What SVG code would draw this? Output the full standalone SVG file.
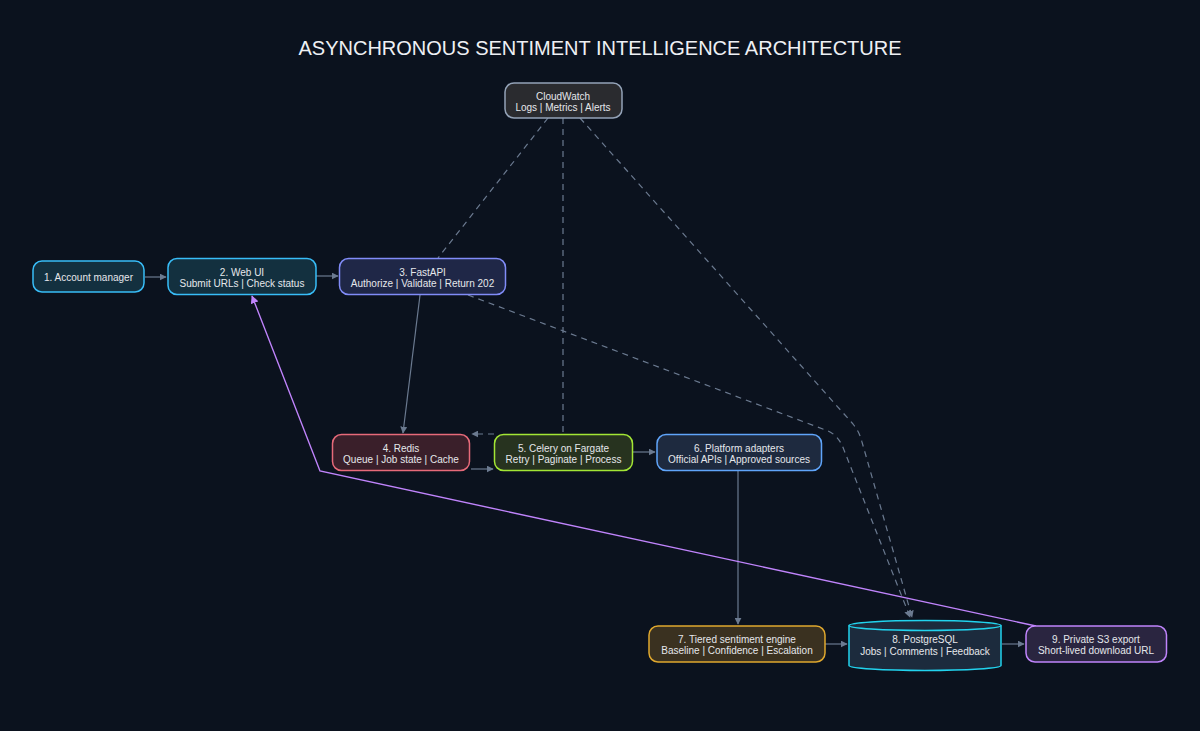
<svg xmlns="http://www.w3.org/2000/svg" width="1200" height="731" viewBox="0 0 1200 731">
<defs>
<marker id="ag" viewBox="0 0 10 10" refX="9" refY="5" markerWidth="7" markerHeight="7" markerUnits="userSpaceOnUse" orient="auto"><path d="M0,0 L10,5 L0,10 z" fill="#6b7a90"/></marker>
<marker id="ap" viewBox="0 0 10 10" refX="9" refY="5" markerWidth="8" markerHeight="8" markerUnits="userSpaceOnUse" orient="auto"><path d="M0,0 L10,5 L0,10 z" fill="#c084fc"/></marker>
<style>
text{font-family:"Liberation Sans",Arial,sans-serif;fill:#e5e7eb;text-anchor:middle}
.t{font-size:10px}
.title{font-size:20px;fill:#eef0f4}
.n{stroke-width:1.5}
.e{fill:none;stroke:#6b7a90;stroke-width:1.2}
.d{stroke-dasharray:6,5}
.p{fill:none;stroke:#c084fc;stroke-width:1.4}
</style>
</defs>
<rect width="1200" height="731" fill="#0b121e"/>
<text class="title" x="600" y="55">ASYNCHRONOUS SENTIMENT INTELLIGENCE ARCHITECTURE</text>
<g id="connectors">
<path class="e" d="M145,277 L166,277" marker-end="url(#ag)"/>
<path class="e" d="M316,276 L338,276" marker-end="url(#ag)"/>
<path class="e" d="M420,295 L403,433" marker-end="url(#ag)"/>
<path class="e d" d="M548,118 L438,258"/>
<path class="e d" d="M563,118 L563,434"/>
<path class="e d" d="M580,118 L853,424 C857,429 860,434 862,442 L912,617" marker-end="url(#ag)"/>
<path class="e d" d="M468,295 L828,431 C837,435 841,442 844,450 L910,617" marker-end="url(#ag)"/>
<path class="e d" d="M494,434 L472,434" marker-end="url(#ag)"/>
<path class="e" d="M471,469 L493,469" marker-end="url(#ag)"/>
<path class="e" d="M633,452 L655,452" marker-end="url(#ag)"/>
<path class="e" d="M738,470 L738,624" marker-end="url(#ag)"/>
<path class="e" d="M825,644 L847,644" marker-end="url(#ag)"/>
<path class="e" d="M1002,644 L1024,644" marker-end="url(#ag)"/>
<path class="p" d="M1036,626 L320,471 L252,296" marker-end="url(#ap)"/>
</g>
<g id="cloudwatch">
<rect class="n" x="505" y="83" width="117" height="35" rx="9" fill="#2a2b2f" stroke="#94a3b8"/>
<text class="t" x="563" y="99.5">CloudWatch</text>
<text class="t" x="563" y="110.5">Logs | Metrics | Alerts</text>
</g>
<g id="n1">
<rect class="n" x="33" y="261" width="111" height="31" rx="9" fill="#13303f" stroke="#38bdf8"/>
<text class="t" x="88.5" y="280.5">1. Account manager</text>
</g>
<g id="n2">
<rect class="n" x="168" y="258.5" width="148" height="36" rx="9" fill="#13303f" stroke="#38bdf8"/>
<text class="t" x="242" y="275.5">2. Web UI</text>
<text class="t" x="242" y="286.5">Submit URLs | Check status</text>
</g>
<g id="n3">
<rect class="n" x="339.5" y="258.5" width="166" height="36" rx="9" fill="#1f2747" stroke="#818cf8"/>
<text class="t" x="422.5" y="275.5">3. FastAPI</text>
<text class="t" x="422.5" y="286.5">Authorize | Validate | Return 202</text>
</g>
<g id="n4">
<rect class="n" x="332.5" y="434.5" width="137" height="36" rx="9" fill="#3a1f2a" stroke="#e76a7a"/>
<text class="t" x="401" y="451.5">4. Redis</text>
<text class="t" x="401" y="462.5">Queue | Job state | Cache</text>
</g>
<g id="n5">
<rect class="n" x="494.5" y="434.5" width="138" height="36" rx="9" fill="#27331f" stroke="#a3e635"/>
<text class="t" x="563.5" y="451.5">5. Celery on Fargate</text>
<text class="t" x="563.5" y="462.5">Retry | Paginate | Process</text>
</g>
<g id="n6">
<rect class="n" x="657" y="434.5" width="164.5" height="36" rx="9" fill="#1e2a3f" stroke="#60a5fa"/>
<text class="t" x="739" y="451.5">6. Platform adapters</text>
<text class="t" x="739" y="462.5">Official APIs | Approved sources</text>
</g>
<g id="n7">
<rect class="n" x="649" y="626" width="176" height="36" rx="9" fill="#3a3120" stroke="#e0a82e"/>
<text class="t" x="737" y="643">7. Tiered sentiment engine</text>
<text class="t" x="737" y="654">Baseline | Confidence | Escalation</text>
</g>
<g id="n8">
<path class="n" d="M849,625.5 A76,5 0 0 1 1001,625.5 L1001,665.5 A76,5 0 0 1 849,665.5 Z" fill="#1c2b3d" stroke="#22d3ee"/>
<path class="n" d="M849,625.5 A76,5 0 0 0 1001,625.5" fill="none" stroke="#22d3ee"/>
<text class="t" x="925" y="643">8. PostgreSQL</text>
<text class="t" x="925" y="654.5">Jobs | Comments | Feedback</text>
</g>
<g id="n9">
<rect class="n" x="1026" y="626" width="140.5" height="36" rx="9" fill="#2a2540" stroke="#c084fc"/>
<text class="t" x="1096" y="643">9. Private S3 export</text>
<text class="t" x="1096" y="654">Short-lived download URL</text>
</g>
</svg>
